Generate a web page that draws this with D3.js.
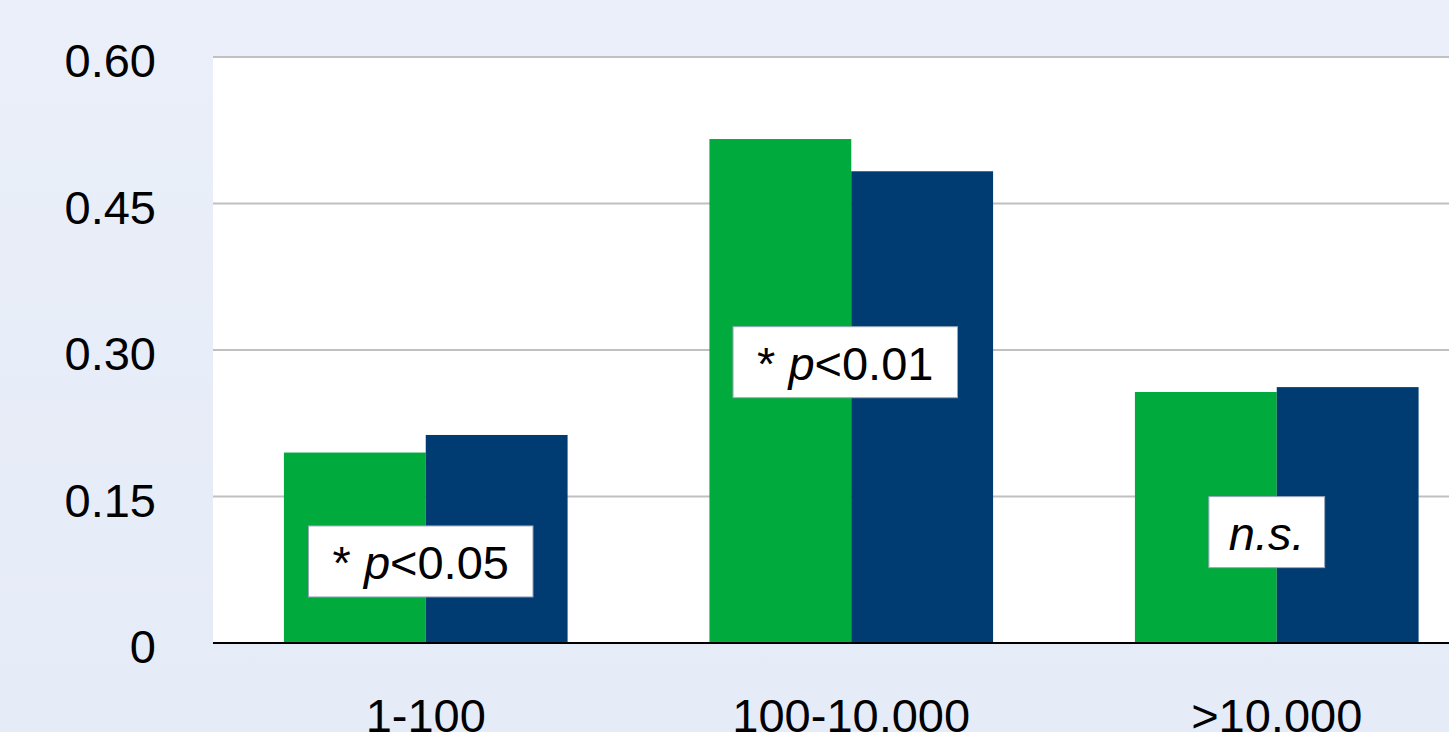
<!DOCTYPE html>
<html>
<head>
<meta charset="utf-8">
<script src="https://cdn.jsdelivr.net/npm/d3@7/dist/d3.min.js"></script>
<style>
  html, body { margin: 0; padding: 0; overflow: hidden; }
  body { width: 1449px; height: 732px; }
</style>
</head>
<body>
<script>
// Data
const categories = ["1-100", "100-10,000", ">10,000"];
const seriesNames = ["Series 1", "Series 2"];
const series1 = [0.195, 0.516, 0.257];
const series2 = [0.213, 0.483, 0.262];
const yTicks = [0, 0.15, 0.30, 0.45, 0.60];
const yTickLabels = ["0", "0.15", "0.30", "0.45", "0.60"];
const annotations = ["* p<0.05", "* p<0.01", "n.s."];
const annotationLevels = [0.083, 0.287, 0.113];

const width = 1449, height = 732;
const plotLeft = 213, plotRight = 1489.5, plotTop = 57, plotBottom = 643;
const colors = ["#00aa3c", "#003b72"];
const font = "'Liberation Sans', Arial, Helvetica, sans-serif";

const rows = categories.map((c, i) => ({ cat: c, values: [series1[i], series2[i]] }));

const svg = d3.select("body").append("svg")
    .attr("width", width)
    .attr("height", height)
    .style("display", "block");

// Background gradient
const defs = svg.append("defs");
const grad = defs.append("linearGradient")
    .attr("id", "bg").attr("x1", 0).attr("y1", 0).attr("x2", 0).attr("y2", 1);
grad.append("stop").attr("offset", "0%").attr("stop-color", "#eaeff9");
grad.append("stop").attr("offset", "100%").attr("stop-color", "#e5ebf7");
svg.append("rect").attr("width", width).attr("height", height).attr("fill", "url(#bg)");

// Scales
const x0 = d3.scaleBand()
    .domain(categories)
    .range([plotLeft, plotRight])
    .paddingInner(1 / 3)
    .paddingOuter(1 / 6);

const x1 = d3.scaleBand()
    .domain(seriesNames)
    .range([0, x0.bandwidth()]);

const y = d3.scaleLinear()
    .domain([0, 0.6])
    .range([plotBottom, plotTop]);

// White plot area
svg.append("rect")
    .attr("x", plotLeft).attr("y", y(0.6))
    .attr("width", plotRight - plotLeft).attr("height", y(0) - y(0.6))
    .attr("fill", "#ffffff");

// Gridlines
svg.append("g")
    .selectAll("line")
    .data(yTicks.filter(d => d > 0))
    .join("line")
    .attr("x1", plotLeft).attr("x2", plotRight)
    .attr("y1", d => y(d)).attr("y2", d => y(d))
    .attr("stroke", "#c0c0c0")
    .attr("stroke-width", 2);

// Bars
const groups = svg.append("g")
    .selectAll("g")
    .data(rows)
    .join("g")
    .attr("transform", d => `translate(${x0(d.cat)},0)`);

groups.selectAll("rect")
    .data(d => d.values.map((v, i) => ({ key: seriesNames[i], v, i })))
    .join("rect")
    .attr("x", d => x1(d.key))
    .attr("y", d => y(d.v))
    .attr("width", x1.bandwidth())
    .attr("height", d => y(0) - y(d.v))
    .attr("fill", d => colors[d.i]);

// Baseline axis
svg.append("line")
    .attr("x1", plotLeft).attr("x2", plotRight)
    .attr("y1", y(0)).attr("y2", y(0))
    .attr("stroke", "#000")
    .attr("stroke-width", 2);

// Y tick labels
svg.append("g")
    .selectAll("text")
    .data(yTicks)
    .join("text")
    .attr("x", 156)
    .attr("y", d => y(d) + 20)
    .attr("text-anchor", "end")
    .attr("font-family", font)
    .attr("font-size", 47)
    .attr("fill", "#000")
    .text((d, i) => yTickLabels[i]);

// X category labels
svg.append("g")
    .selectAll("text")
    .data(categories)
    .join("text")
    .attr("x", d => x0(d) + x0.bandwidth() / 2)
    .attr("y", 732)
    .attr("text-anchor", "middle")
    .attr("font-family", font)
    .attr("font-size", 47)
    .attr("fill", "#000")
    .text(d => d);

// Significance labels in white boxes
const annoShift = [-5, -6, -10];
annotations.forEach((txt, i) => {
    const cx = x0(categories[i]) + x0.bandwidth() / 2 + annoShift[i];
    const cy = y(annotationLevels[i]);
    const g = svg.append("g");
    const box = g.append("rect")
        .attr("fill", "#fff")
        .attr("stroke", "#9aa7bd")
        .attr("stroke-width", 1);
    const t = g.append("text")
        .attr("x", cx)
        .attr("y", cy + 17)
        .attr("text-anchor", "middle")
        .attr("font-family", font)
        .attr("font-size", 47)
        .attr("fill", "#000");
    // italicise the "p" and "n.s." parts
    const m = txt.match(/^(\* )(p)(.*)$/);
    if (m) {
        t.append("tspan").text(m[1]);
        t.append("tspan").attr("font-style", "italic").text(m[2]);
        t.append("tspan").text(m[3]);
    } else {
        t.append("tspan").attr("font-style", "italic").text(txt);
    }
    const bb = t.node().getBBox();
    const padX = m ? 24 : 20;
    box.attr("x", bb.x - padX)
        .attr("y", cy - 36)
        .attr("width", bb.width + padX * 2)
        .attr("height", 71);
});
</script>
</body>
</html>
